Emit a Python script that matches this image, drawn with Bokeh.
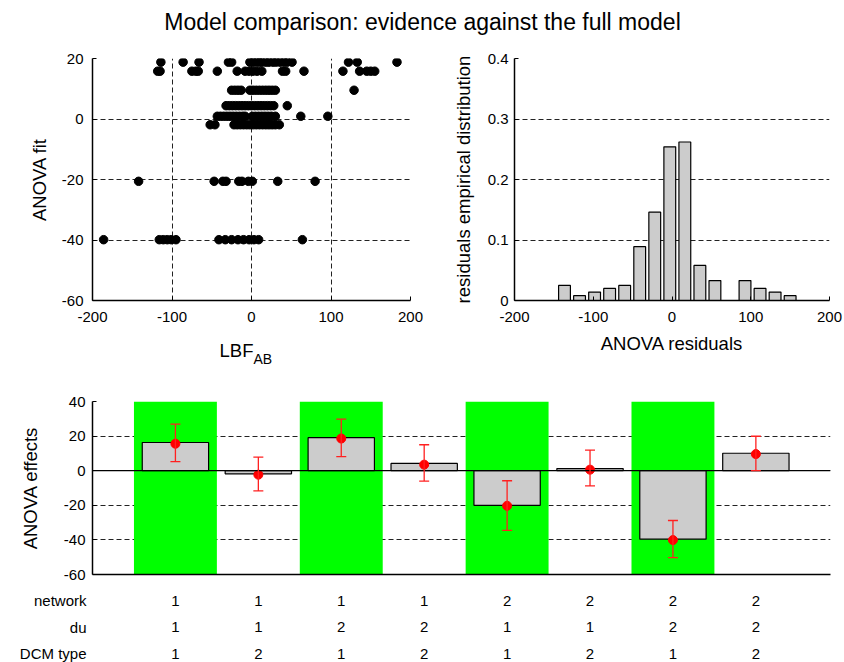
from bokeh.plotting import figure
from bokeh.layouts import column, row
from bokeh.models import Range1d, FixedTicker, Label, Span, Whisker, TeeHead, ColumnDataSource
from bokeh.core.properties import value
from bokeh.embed import file_html
from bokeh.resources import INLINE

FONT = "Liberation Sans"

title_text = "Model comparison: evidence against the full model"

# ---------------- data ----------------
condition = [1, 2, 3, 4, 5, 6, 7, 8]
network = [1, 1, 1, 1, 2, 2, 2, 2]
du = [1, 1, 2, 2, 1, 1, 2, 2]
dcm_type = [1, 2, 1, 2, 1, 2, 1, 2]

anova_effects = [16.3, -1.8, 19.1, 4.2, -20.0, 1.2, -39.6, 10.1]
effect_mean = [15.6, -2.3, 18.6, 3.5, -20.3, 0.6, -40.1, 9.6]
effect_upper = [26.9, 7.9, 29.8, 15.0, -5.8, 11.9, -28.8, 19.9]
effect_lower = [5.2, -11.7, 8.1, -6.0, -34.5, -8.8, -50.3, 0.0]

# ANOVA fit per condition (y of scatter)
anova_fit = [15.8, -1.9, 18.8, 4.4, -20.6, 0.9, -39.9, 9.5]

# LBF_AB values per condition
lbf_c1 = [-118, -115, -75, -70, -67, -43, -18, -8, -3, 2, 7, 13, 39, 43, 66, 115, 136, 145, 150, 155]
lbf_c2 = [-52, -46, -22, -18, -14, -10, -6, -2, 2, 6, 10, 14, 18, 22, 26, 30, 35]
lbf_c3 = [-114, -86, -66, -29, -25, -2, 2, 6, 10, 13, 18, 22, 27, 31, 36, 41, 45, 51, 122, 133, 183]
lbf_c4 = [-32, -28, -24, -20, -16, -12, -8, -4, 0, 4, 8, 12, 16, 20, 24, 28, 45]
lbf_c5 = [-142, -47, -36, -32, -16, -12, -4, 1, 33, 80]
lbf_c6 = [-43, -39, -35, -31, -27, -23, -19, -15, -11, -8, 1, 5, 9, 13, 17, 21, 25, 30, 62, 96]
lbf_c7 = [-186, -116, -111, -106, -101, -95, -41, -33, -25, -17, -10, -3, 3, 9, 64]
lbf_c8 = [-25, -21, -17, -13, -2, 2, 6, 10, 14, 18, 22, 26, 30, 129]

# histogram of residuals
resid_bin_center = [-136.5, -117.4, -98.3, -79.2, -60.1, -41.0, -21.9, -2.8, 16.3, 35.4, 54.5,
                    92.7, 111.8, 130.9, 150.0]
resid_density = [0.025, 0.008, 0.014, 0.020, 0.025, 0.089, 0.146, 0.254, 0.262, 0.058, 0.033,
                 0.033, 0.020, 0.014, 0.008]

x_ticks_lbf = [-200, -100, 0, 100, 200]
y_ticks_fit = [-60, -40, -20, 0, 20]
y_ticks_dens = [0, 0.1, 0.2, 0.3, 0.4]
y_ticks_eff = [-60, -40, -20, 0, 20, 40]
table_rows = ["network", "du", "DCM type"]

# ---------------- helpers ----------------
GRID_DASH = "5 3"


def labels_for(ticks):
    return {t: (str(int(t)) if float(t).is_integer() else str(t)) for t in ticks}


def style(p, xlabel=None, ylabel=None):
    p.outline_line_color = None
    p.background_fill_color = "white"
    p.border_fill_color = "white"
    for ax in p.axis:
        ax.axis_line_color = "black"
        ax.axis_line_width = 1.5
        ax.major_tick_in = 4
        ax.major_tick_out = 0
        ax.major_tick_line_color = "black"
        ax.minor_tick_line_color = None
        ax.major_label_text_font = FONT
        ax.major_label_text_font_size = "15px"
        ax.major_label_text_color = "black"
        ax.axis_label_text_font = FONT
        ax.axis_label_text_font_size = "18.5px"
        ax.axis_label_text_font_style = "normal"
        ax.axis_label_text_color = "black"
    for g in p.grid:
        g.grid_line_color = "#222222"
        g.grid_line_dash = GRID_DASH
        g.grid_line_width = 1
    if xlabel:
        p.xaxis.axis_label = xlabel
    if ylabel:
        p.yaxis.axis_label = ylabel


def blank(width, height):
    f = figure(width=width, height=height, x_range=Range1d(0, 1), y_range=Range1d(0, 1),
               toolbar_location=None, output_backend="svg", min_border=0,
               min_border_left=0, min_border_right=0, min_border_top=0, min_border_bottom=0,
               x_axis_location=None, y_axis_location=None)
    f.outline_line_color = None
    f.grid.visible = False
    return f


def canvas_label(text, x, y, size, align="center"):
    return Label(x=x, y=y, x_units="canvas", y_units="canvas", text=text, text_align=align,
                 text_baseline="middle", text_font=FONT, text_font_size=size,
                 text_color="black")


# ---------------- header ----------------
header = blank(844, 40)
header.add_layout(canvas_label(title_text, 422, 21, "23px"))

# ---------------- scatter (top-left) ----------------
lbf_lists = [lbf_c1, lbf_c2, lbf_c3, lbf_c4, lbf_c5, lbf_c6, lbf_c7, lbf_c8]
sx, sy = [], []
for i, lst in enumerate(lbf_lists):
    sx.extend(lst)
    sy.extend([anova_fit[i]] * len(lst))

p1 = figure(width=440, height=295, x_range=Range1d(-200, 200), y_range=Range1d(-60, 20),
            toolbar_location=None, output_backend="svg",
            min_border_left=92, min_border_right=30, min_border_top=18, min_border_bottom=35)
p1.scatter(sx, sy, size=8.5, color="black")
p1.xaxis.ticker = FixedTicker(ticks=x_ticks_lbf)
p1.yaxis.ticker = FixedTicker(ticks=y_ticks_fit)
p1.xaxis.major_label_overrides = labels_for(x_ticks_lbf)
p1.yaxis.major_label_overrides = labels_for(y_ticks_fit)
style(p1, ylabel="ANOVA fit")
p1.xaxis.major_label_standoff = 11
p1.yaxis.major_label_standoff = 9
p1.yaxis.axis_label_standoff = 9

# x-axis label with subscript: LBF_AB
p1lab = blank(440, 45)
p1lab.add_layout(canvas_label("LBF", 236, 15, "18.5px"))
p1lab.add_layout(canvas_label("AB", 253, 23, "14px", align="left"))

# ---------------- histogram (top-right) ----------------
p2 = figure(width=404, height=340, x_range=Range1d(-200, 200), y_range=Range1d(0, 0.4),
            toolbar_location=None, output_backend="svg",
            min_border_left=74, min_border_right=15, min_border_top=18, min_border_bottom=80)
p2.vbar(x=resid_bin_center, top=resid_density, bottom=0, width=15,
        fill_color="#cccccc", line_color="black", line_width=1.2)
p2.xaxis.ticker = FixedTicker(ticks=x_ticks_lbf)
p2.yaxis.ticker = FixedTicker(ticks=y_ticks_dens)
p2.xaxis.major_label_overrides = labels_for(x_ticks_lbf)
p2.yaxis.major_label_overrides = labels_for(y_ticks_dens)
style(p2, xlabel="ANOVA residuals", ylabel="residuals empirical distribution")
p2.xgrid.visible = False
p2.xaxis.major_label_standoff = 11
p2.xaxis.axis_label_standoff = 8
p2.yaxis.major_label_standoff = 6
p2.yaxis.axis_label_standoff = 11

# ---------------- effects (bottom) ----------------
y_min, y_max = y_ticks_eff[0], y_ticks_eff[-1]
p3 = figure(width=844, height=206, x_range=Range1d(0, 8.9), y_range=Range1d(y_min, y_max),
            toolbar_location=None, output_backend="svg",
            min_border_left=92, min_border_right=14, min_border_top=21, min_border_bottom=12)
hl = [c for c, d in zip(condition, dcm_type) if d == 1]
p3.vbar(x=hl, top=y_max, bottom=y_min, width=1.0, fill_color="#00ff00", line_color=None)
p3.add_layout(Span(location=0, dimension="width", line_color="black", line_width=1.2,
                   level="glyph"))
p3.vbar(x=condition, top=anova_effects, bottom=0, width=0.8,
        fill_color="#cccccc", line_color="black", line_width=1.2)
err_src = ColumnDataSource(dict(x=condition, upper=effect_upper, lower=effect_lower))
p3.add_layout(Whisker(source=err_src, base="x", upper="upper", lower="lower",
                      line_color="#ff2020", line_width=1.3, level="glyph",
                      upper_head=TeeHead(size=10, line_color="#ff2020", line_width=1.3),
                      lower_head=TeeHead(size=10, line_color="#ff2020", line_width=1.3)))
p3.scatter(condition, effect_mean, size=9, color="#ff0000")
p3.yaxis.ticker = FixedTicker(ticks=y_ticks_eff)
p3.yaxis.major_label_overrides = labels_for(y_ticks_eff)
p3.xaxis.ticker = FixedTicker(ticks=[])
style(p3, ylabel="ANOVA effects")
p3.xgrid.visible = False
p3.xaxis.major_label_text_font_size = "0px"
p3.xaxis.major_tick_in = 0
p3.xaxis.major_label_standoff = 0
p3.yaxis.major_label_standoff = 7
p3.yaxis.axis_label_standoff = 20

# ---------------- factor table ----------------
tx, ty, tt = [], [], []
for row_idx, vals in zip([2, 1, 0], [network, du, dcm_type]):
    tx.extend(condition)
    ty.extend([row_idx] * len(condition))
    tt.extend([str(v) for v in vals])
tsrc = ColumnDataSource(dict(x=tx, y=ty, t=tt))

p4 = figure(width=844, height=76, x_range=p3.x_range, y_range=Range1d(-0.29, 2.49),
            toolbar_location=None, output_backend="svg",
            min_border_left=92, min_border_right=14, min_border_top=1, min_border_bottom=1)
p4.text(x="x", y="y", text="t", source=tsrc, text_align="center", text_baseline="middle",
        text_font=value(FONT), text_font_size="15px", text_color="black")
p4.outline_line_color = None
p4.grid.visible = False
p4.xaxis.visible = False
p4.yaxis.ticker = FixedTicker(ticks=[2, 1, 0])
p4.yaxis.major_label_overrides = {2: table_rows[0], 1: table_rows[1], 0: table_rows[2]}
p4.yaxis.axis_line_color = None
p4.yaxis.major_tick_line_color = None
p4.yaxis.minor_tick_line_color = None
p4.yaxis.major_tick_in = 0
p4.yaxis.major_tick_out = 0
p4.yaxis.major_label_text_font = FONT
p4.yaxis.major_label_text_font_size = "15px"
p4.yaxis.major_label_text_color = "black"
p4.yaxis.major_label_standoff = 6

layout = column(header, row(column(p1, p1lab), p2), p3, p4)

open("out.html", "w").write(file_html(layout, INLINE))
